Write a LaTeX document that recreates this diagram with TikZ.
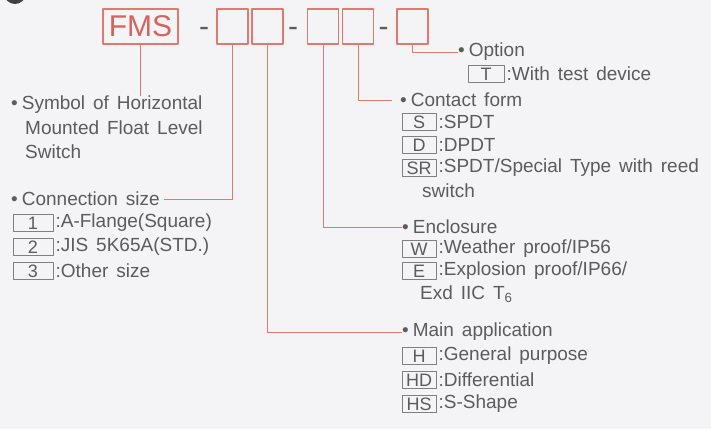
\documentclass[tikz,border=0pt]{standalone}
\usepackage{fontspec}
\setmainfont{Liberation Sans}[WordSpace=1.5]
\usetikzlibrary{positioning}
\definecolor{leadred}{RGB}{224,122,112}
\definecolor{codered}{RGB}{214,100,94}
\definecolor{txtgray}{RGB}{92,92,92}
\definecolor{keygray}{RGB}{128,128,128}
\definecolor{paper}{RGB}{244,243,245}
\newcommand{\bul}{\textbullet\hspace{4pt}}

\begin{document}
\begin{tikzpicture}[x=1pt, y=-1pt, line join=round,
  codebox/.style={draw=leadred, line width=1.1pt, minimum width=31pt, minimum height=35pt, inner sep=0pt},
  dashtxt/.style={text=txtgray, font=\fontsize{30}{30}\selectfont, inner sep=0pt},
  lead/.style={draw=leadred, line width=1pt},
  txt/.style={text=txtgray, font=\fontsize{19}{23}\selectfont, inner sep=0pt, anchor=west},
  keybox/.style={draw=keygray, line width=0.8pt, text=txtgray, font=\fontsize{18}{20}\selectfont, minimum width=34pt, minimum height=17pt, inner sep=0pt},
  lkeybox/.style={keybox, minimum width=40pt}]

  % ========================================================
  % 0. PAPER AND BOUNDING BOX
  % ========================================================
  \fill[paper] (0,0) rectangle (711,429);
  \useasboundingbox (0,0) rectangle (711,429);
  \begin{scope}
    \clip (0,0) rectangle (711,429);
    \fill[txtgray!70!black] (15,-7) circle (11);
  \end{scope}

  % ========================================================
  % 1. ORDERING CODE  FMS - [][] - [][] - []
  % ========================================================
  \node[codebox, minimum width=75pt, text=codered, font=\fontsize{30}{30}\selectfont] (fms) at (140.5,26.5) {FMS};
  \node[dashtxt] (d1) at (204,32) {-};
  \node[codebox] (b1) at (232.5,26.5) {};
  \node[codebox] (b2) at (267.5,26.5) {};
  \node[dashtxt] (d2) at (293,32) {-};
  \node[codebox] (b3) at (323,26.5) {};
  \node[codebox] (b4) at (358,26.5) {};
  \node[dashtxt] (d3) at (383.5,32) {-};
  \node[codebox] (b5) at (412.5,26.5) {};

  % ========================================================
  % 2. LEFT COLUMN
  % ========================================================
  \node[txt] (symb) at (11,105) {\bul Symbol of Horizontal};
  \node[txt] (symb2) at (25,128) {Mounted Float Level};
  \node[txt] (symb3) at (25,152) {Switch};

  \node[txt] (conn) at (11,199) {\bul Connection size};
  \node[lkeybox] (k1) at (33,223) {1};
  \node[txt, right=2pt of k1] (k1d) {:A-Flange(Square)};
  \node[lkeybox] (k2) at (33,247) {2};
  \node[txt, right=2pt of k2] (k2d) {:JIS 5K65A(STD.)};
  \node[lkeybox] (k3) at (33,271) {3};
  \node[txt, right=2pt of k3] (k3d) {:Other size};

  % ========================================================
  % 3. RIGHT COLUMN
  % ========================================================
  % Option
  \node[txt] (opt) at (458,52) {\bul Option};
  \node[keybox, minimum width=36pt] (kT) at (486,74) {T};
  \node[txt, right=2pt of kT] (kTd) {:With test device};

  % Contact form
  \node[txt] (cont) at (400,100) {\bul Contact form};
  \node[keybox] (kS) at (419,122) {S};
  \node[txt, right=2pt of kS] (kSd) {:SPDT};
  \node[keybox] (kD) at (419,145) {D};
  \node[txt, right=2pt of kD] (kDd) {:DPDT};
  \node[keybox] (kSR) at (419,168) {SR};
  \node[txt, right=2pt of kSR] (kSRd) {:SPDT/Special Type with reed};
  \node[txt] (kSRd2) at (422,191) {switch};

  % Enclosure
  \node[txt] (encl) at (402,227) {\bul Enclosure};
  \node[keybox] (kW) at (419,249) {W};
  \node[txt, right=2pt of kW] (kWd) {:Weather proof/IP56};
  \node[keybox] (kE) at (419,271) {E};
  \node[txt, right=2pt of kE] (kEd) {:Explosion proof/IP66/};
  \node[txt] (kEd2) at (420,294) {Exd IIC T\textsubscript{6}};

  % Main application
  \node[txt] (main) at (402,332) {\bul Main application};
  \node[keybox] (kH) at (419,356) {H};
  \node[txt, right=2pt of kH] (kHd) {:General purpose};
  \node[keybox] (kHD) at (419,380) {HD};
  \node[txt, right=2pt of kHD] (kHDd) {:Differential};
  \node[keybox] (kHS) at (419,404) {HS};
  \node[txt, right=2pt of kHS] (kHSd) {:S-Shape};

  % ========================================================
  % 4. LEADER LINES
  % ========================================================
  \draw[lead] (fms.south) -- (fms.south |- symb.north);
  \draw[lead] (b1.south) |- ([xshift=4pt]conn.east);
  \draw[lead] (b2.south) |- (main.west);
  \draw[lead] (b3.south) |- (encl.west);
  \draw[lead] (b4.south) |- ([xshift=-8pt]cont.west);
  \draw[lead] (b5.south) |- (opt.west);

\end{tikzpicture}
\end{document}
